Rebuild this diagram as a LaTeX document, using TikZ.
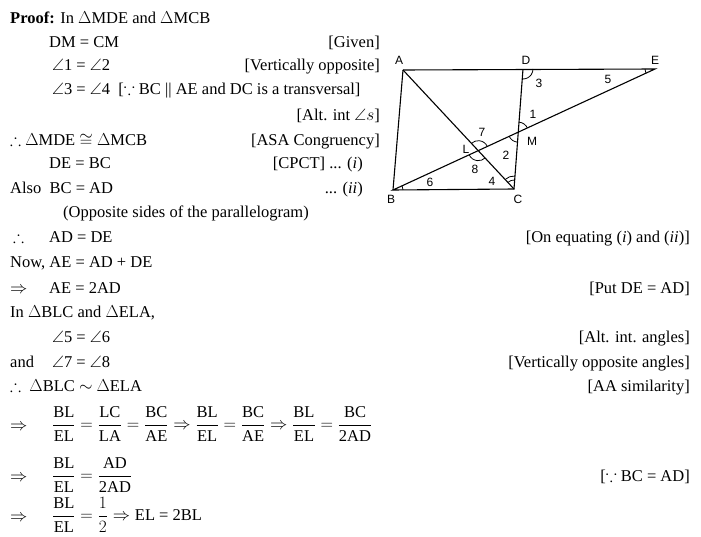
\documentclass[tikz,border=0pt]{standalone}
\usepackage{amsmath,amssymb}
\usepackage{fontspec}
\setmainfont{Liberation Serif}
\newfontfamily\lblfont{Liberation Sans}
\usetikzlibrary{angles,calc}
\begin{document}
\begin{tikzpicture}[x=1pt,y=-1pt,
  tx/.style={anchor=base west,inner sep=0pt,font=\fontsize{16.5}{19}\selectfont},
  tr/.style={anchor=base east,inner sep=0pt,font=\fontsize{16.5}{19}\selectfont},
  fr/.style={anchor=west,inner sep=0pt,font=\fontsize{16.5}{19}\selectfont},
  pt/.style={inner sep=0pt,font=\lblfont\fontsize{12}{14}\selectfont},
  ang/.style={draw,line width=0.8pt,angle radius=10pt},
  fig/.style={line width=1.1pt}]
\useasboundingbox (0,0) rectangle (701,537);
% text
\node[tx] (t1) at (10,24) {\textbf{Proof:} In $\Delta$MDE and $\Delta$MCB};
\node[tx] (t2) at (49,48) {DM = CM};
\node[tr] (r2) at (380,48) {[Given]};
\node[tx] (t3) at (52,71) {$\angle$1 = $\angle$2};
\node[tr] (r3) at (380,71) {[Vertically opposite]};
\node[tx] (t4) at (52,95) {$\angle$3 = $\angle$4 \ [$\because$ BC || AE and DC is a transversal]};
\node[tr] (r5) at (380,121) {[Alt. int $\angle s$]};
\node[tx] (t6) at (10,146) {$\therefore$ $\Delta$MDE $\cong$ $\Delta$MCB};
\node[tr] (r6) at (380,146) {[ASA Congruency]};
\node[tx] (t7) at (49,169) {DE = BC};
\node[tr] (r7) at (363,169) {[CPCT] ... (\textit{i})};
\node[tx] (t8) at (10,194) {Also \ BC = AD};
\node[tr] (r8) at (363,194) {... (\textit{ii})};
\node[tx] (t9) at (63,218) {(Opposite sides of the parallelogram)};
\node[tx] (t10a) at (13,243) {$\therefore$};
\node[tx] (t10) at (49,243) {AD = DE};
\node[tr] (r10) at (690,243) {[On equating (\textit{i}) and (\textit{ii})]};
\node[tx] (t11) at (10,268) {Now, AE = AD + DE};
\node[tx] (t12a) at (10,293) {$\Rightarrow$};
\node[tx] (t12) at (49,293) {AE = 2AD};
\node[tr] (r12) at (690,293) {[Put DE = AD]};
\node[tx] (t13) at (10,317) {In $\Delta$BLC and $\Delta$ELA,};
\node[tx] (t14) at (52,342) {$\angle$5 = $\angle$6};
\node[tr] (r14) at (690,342) {[Alt. int. angles]};
\node[tx] (t15a) at (10,367) {and};
\node[tx] (t15) at (52,367) {$\angle$7 = $\angle$8};
\node[tr] (r15) at (690,367) {[Vertically opposite angles]};
\node[tx] (t16) at (10,391) {$\therefore$ \ $\Delta$BLC $\sim$ $\Delta$ELA};
\node[tr] (r16) at (690,391) {[AA similarity]};
\node[tx] (t17a) at (10,430) {$\Rightarrow$};
\node[fr] (t17) at (52,424) {$\dfrac{\text{BL}}{\text{EL}} = \dfrac{\text{LC}}{\text{LA}} = \dfrac{\text{BC}}{\text{AE}} \Rightarrow \dfrac{\text{BL}}{\text{EL}} = \dfrac{\text{BC}}{\text{AE}} \Rightarrow \dfrac{\text{BL}}{\text{EL}} = \dfrac{\text{BC}}{\text{2AD}}$};
\node[tx] (t18a) at (10,481) {$\Rightarrow$};
\node[fr] (t18) at (52,475) {$\dfrac{\text{BL}}{\text{EL}} = \dfrac{\text{AD}}{\text{2AD}}$};
\node[tr] (r18) at (690,481) {[$\because$ BC = AD]};
\node[tx] (t19a) at (10,521) {$\Rightarrow$};
\node[fr] (t19) at (52,515) {$\dfrac{\text{BL}}{\text{EL}} = \dfrac{1}{2} \Rightarrow \text{EL = 2BL}$};
% figure
\coordinate (A) at (403,70);
\coordinate (D) at (523,69);
\coordinate (E) at (655,69);
\coordinate (B) at (393,190);
\coordinate (C) at (514,189);
\coordinate (M) at (intersection of B--E and D--C);
\coordinate (L) at (intersection of B--E and A--C);
\draw[fig] (A) -- (E) -- (B) -- (C) -- (D);
\draw[fig] (A) -- (B);
\draw[fig] (A) -- (C);
\pic[ang] {angle=C--D--E};
\pic[ang] {angle=D--E--B};
\pic[ang] {angle=E--M--D};
\pic[ang] {angle=B--M--C};
\pic[ang] {angle=M--L--A};
\pic[ang] {angle=B--L--C};
\pic[ang] {angle=C--B--E};
\pic[ang,angle radius=9pt] {angle=D--C--A};
\pic[ang,angle radius=13pt] {angle=D--C--A};
\node[pt] (lA) at (399,60) {A};
\node[pt] (lD) at (526,60) {D};
\node[pt] (lE) at (655,60) {E};
\node[pt] (lB) at (391,199) {B};
\node[pt] (lC) at (518,199) {C};
\node[pt] (lM) at (532,141) {M};
\node[pt] (lL) at (466,149) {L};
\node[pt] (n1) at (533,114) {1};
\node[pt] (n2) at (506,155) {2};
\node[pt] (n3) at (539,83) {3};
\node[pt] (n4) at (492,181) {4};
\node[pt] (n5) at (608,79) {5};
\node[pt] (n6) at (430,182) {6};
\node[pt] (n7) at (482,132) {7};
\node[pt] (n8) at (475,169) {8};
\end{tikzpicture}
\end{document}
